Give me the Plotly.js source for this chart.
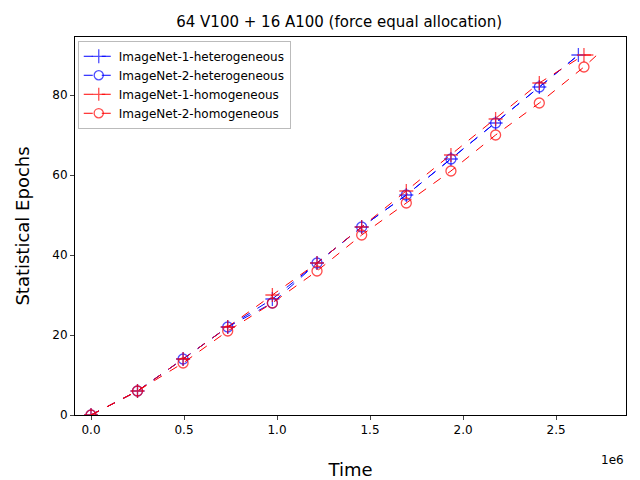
<!DOCTYPE html><html><head><script src="https://cdn.plot.ly/plotly-3.0.1.min.js"></script></head><body style="margin:0"><div id="c" style="width:640px;height:480px"></div><script>
const timesHet=[0,0.25e6,0.495e6,0.735e6,0.975e6,1.215e6,1.455e6,1.695e6,1.935e6,2.175e6,2.41e6,2.62e6];
const het1=[0,6,14,22,29,38,47,55,64,73,82,90];
const het2=[0,6,14,22,28,38,47,55,64,73,82,90];
const timesHom=[0,0.25e6,0.495e6,0.735e6,0.975e6,1.215e6,1.455e6,1.695e6,1.935e6,2.175e6,2.41e6,2.65e6,2.72e6];
const hom1=[0,6,14,22,30,38,47,56,65,74,83,90,90];
const hom2=[0,6,13,21,28,36,45,53,61,70,78,87,90];
const names=['ImageNet-1-heterogeneous','ImageNet-2-heterogeneous','ImageNet-1-homogeneous','ImageNet-2-homogeneous'];
function tr(x,y,name,color,sym,n,sz){
 const sizes=x.map((v,i)=>i<n?sz:0);
 return {x,y,name,mode:'lines+markers',line:{color,dash:'dash',width:1},
  marker:{symbol:sym,size:sizes,color,line:{color,width:1.3}}};
}
const data=[tr(timesHet,het1,names[0],'blue','cross-thin-open',12,10),
 tr(timesHet,het2,names[1],'blue','circle-open',11,10),
 tr(timesHom,hom1,names[2],'red','cross-thin-open',12,10),
 tr(timesHom,hom2,names[3],'red','circle-open',12,10)];
const layout={width:640,height:480,margin:{l:75,r:14,t:37,b:65},showlegend:true,
 title:{text:'64 V100 + 16 A100 (force equal allocation)',font:{family:'DejaVu Sans',size:15,color:'black'},x:0.53,y:0.965},
 font:{family:'DejaVu Sans',size:12,color:'black'},plot_bgcolor:'white',
 xaxis:{range:[-0.086e6,2.876e6],tickvals:[0,0.5e6,1e6,1.5e6,2e6,2.5e6],ticktext:['0.0','0.5','1.0','1.5','2.0','2.5'],
  ticks:'outside',ticklen:4,showgrid:false,zeroline:false,showline:true,mirror:true,linecolor:'black',
  title:{text:'Time',font:{size:18}}},
 yaxis:{range:[0,94.5],tickvals:[0,20,40,60,80],ticks:'outside',ticklen:4,showgrid:false,zeroline:false,showline:true,mirror:true,linecolor:'black',
  title:{text:'Statistical Epochs',font:{size:18}}},
 legend:{x:0.005,y:0.99,bordercolor:'#bbb',borderwidth:1,bgcolor:'rgba(255,255,255,0.8)',font:{size:12}},
 annotations:[{text:'1e6',xref:'paper',yref:'paper',x:1,y:-0.095,xanchor:'right',yanchor:'top',showarrow:false,font:{size:12}}]};
Plotly.newPlot('c',data,layout,{displayModeBar:false});
</script></body></html>
